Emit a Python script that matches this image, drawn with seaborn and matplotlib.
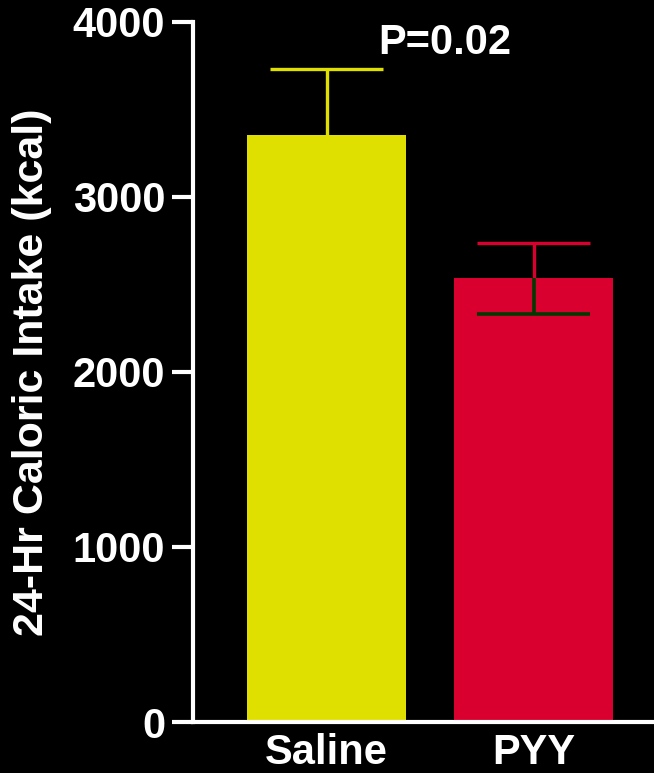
import matplotlib
matplotlib.use("Agg")
import matplotlib.pyplot as plt
import seaborn as sns

# chart values
groups = ["Saline", "PYY"]
means = [3355, 2537]
err_upper = [375, 200]
err_lower = [0, 206]
bar_colors = ["#e0e000", "#d9002f"]
lower_err_color = "#003a00"
p_label = "P=0.02"
y_ticks = [0, 1000, 2000, 3000, 4000]

sns.set_style("dark")
plt.rcParams["font.family"] = ["Liberation Sans", "DejaVu Sans"]
plt.rcParams["font.weight"] = "bold"

fig = plt.figure(figsize=(6.54, 7.73), dpi=100, facecolor="black")
ax = fig.add_axes([193 / 654, 1 - 722 / 773, 461 / 654, 700 / 773])
ax.set_facecolor("black")

sns.barplot(x=groups, y=means, hue=groups, palette=bar_colors, width=0.768,
            errorbar=None, legend=False, ax=ax, saturation=1, linewidth=0)

# error bars: stem + cap, upper in bar colour, lower (if any) dark
cap_half = 0.275
for i, g in enumerate(groups):
    top = means[i] + err_upper[i]
    ax.vlines(i, means[i], top, color=bar_colors[i], lw=2.4)
    ax.hlines(top, i - cap_half, i + cap_half, color=bar_colors[i], lw=2.4)
    if err_lower[i] > 0:
        bot = means[i] - err_lower[i]
        ax.vlines(i, bot, means[i], color=lower_err_color, lw=2.6)
        ax.hlines(bot, i - cap_half, i + cap_half, color=lower_err_color, lw=2.6)

ax.text(0.572, 3880, p_label, color="white", fontsize=30, fontweight="bold",
        ha="center", va="center")

ax.set_xlim(-0.645, 1.582)
ax.set_ylim(0, 4000)
ax.set_yticks(y_ticks)
ax.set_yticklabels([str(t) for t in y_ticks])
ax.grid(False)

for side in ["top", "right"]:
    ax.spines[side].set_visible(False)
for side in ["left", "bottom"]:
    ax.spines[side].set_visible(True)
    ax.spines[side].set_color("white")
    ax.spines[side].set_linewidth(3)

ax.tick_params(axis="y", colors="white", length=15, width=3, pad=5,
               labelsize=30, direction="out", left=True)
ax.tick_params(axis="x", colors="white", length=0, pad=8, labelsize=30)
for lbl in ax.get_xticklabels() + ax.get_yticklabels():
    lbl.set_fontweight("bold")

ax.set_xlabel("")
ax.set_ylabel("24-Hr Caloric Intake (kcal)", color="white", fontsize=31,
              fontweight="bold")
ax.yaxis.set_label_coords(-0.306, 0.5)

fig.savefig("out.png", dpi=100, facecolor="black")
